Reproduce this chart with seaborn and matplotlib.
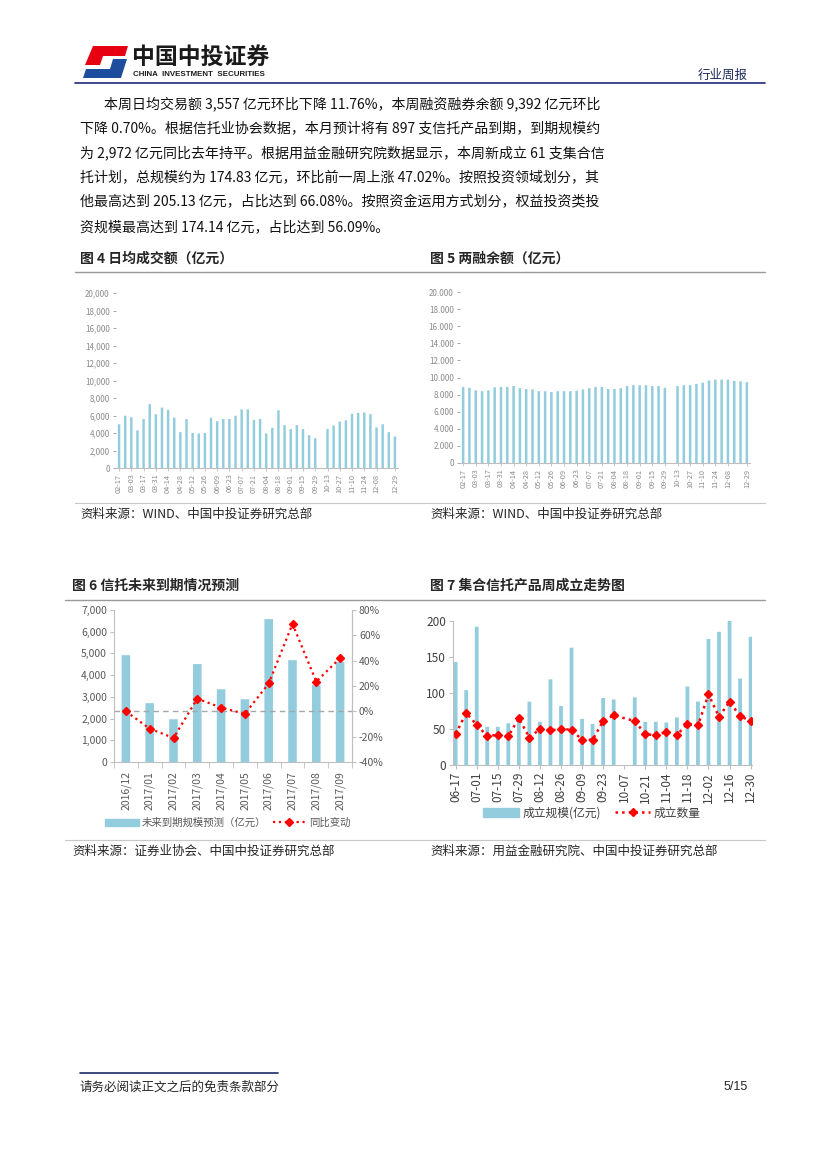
import numpy as np
import pandas as pd
import seaborn as sns
import matplotlib.pyplot as plt
from matplotlib.patches import Polygon, Patch
from matplotlib.lines import Line2D
from matplotlib.ticker import FuncFormatter

sns.set_style('white')
plt.rcParams['font.family'] = ['Noto Sans CJK SC', 'DejaVu Sans']
plt.rcParams['axes.unicode_minus'] = False

# ---- data ----
weeks = ['02-17', '02-24', '03-03', '03-10', '03-17', '03-24', '03-31', '04-07', '04-14', '04-21',
         '04-28', '05-05', '05-12', '05-19', '05-26', '06-02', '06-09', '06-16', '06-23', '06-30',
         '07-07', '07-14', '07-21', '07-28', '08-04', '08-11', '08-18', '08-25', '09-01', '09-08',
         '09-15', '09-22', '09-29', '10-06', '10-13', '10-20', '10-27', '11-03', '11-10', '11-17',
         '11-24', '12-01', '12-08', '12-15', '12-22', '12-29']

# fig 4 日均成交额 (亿元)
turnover = [5000, 5970, 5800, 4300, 5600, 7300, 6150, 6900, 6650, 5750,
            4100, 5600, 4000, 3950, 4000, 5750, 5350, 5600, 5600, 5970,
            6700, 6700, 5500, 5600, 3950, 4600, 6600, 4900, 4450, 4900,
            4450, 3750, 3400, 0, 4450, 4850, 5300, 5450, 6200, 6300,
            6350, 6150, 4650, 5000, 4100, 3600]

# fig 5 两融余额 (亿元)
margin = [8900, 8800, 8500, 8400, 8500, 8850, 8900, 8900, 9000, 8750,
          8650, 8600, 8400, 8400, 8300, 8400, 8400, 8400, 8450, 8600,
          8750, 8900, 8900, 8650, 8650, 8750, 9000, 9100, 9100, 9100,
          9000, 9000, 8800, 0, 9000, 9100, 9100, 9250, 9400, 9650,
          9750, 9750, 9750, 9600, 9550, 9450]

# fig 6 信托未来到期
months = ['2016/12', '2017/01', '2017/02', '2017/03', '2017/04',
          '2017/05', '2017/06', '2017/07', '2017/08', '2017/09']
due_scale = [4920, 2710, 1970, 4510, 3350, 2890, 6580, 4690, 3540, 4600]
due_yoy = [0.00, -0.137, -0.21, 0.10, 0.03, -0.02, 0.22, 0.69, 0.235, 0.42]

# fig 7 集合信托产品周成立
weeks7 = ['06-17', '06-24', '07-01', '07-08', '07-15', '07-22', '07-29', '08-05', '08-12', '08-19',
          '08-26', '09-02', '09-09', '09-16', '09-23', '09-30', '10-07', '10-14', '10-21', '10-28',
          '11-04', '11-11', '11-18', '11-25', '12-02', '12-09', '12-16', '12-23', '12-30']
new_scale = [143, 104, 192, 53, 53, 58, 60, 88, 60, 119,
             82, 163, 64, 57, 93, 91, 0, 94, 60, 60,
             59, 66, 109, 88, 175, 185, 200, 120, 178]
new_count = [43, 72, 56, 40, 42, 40, 65, 38, 50, 48,
             50, 49, 35, 35, 61, 69, np.nan, 61, 43, 41,
             46, 42, 57, 55, 98, 67, 88, 68, 61]

text_lines = [
    '本周日均交易额 3,557 亿元环比下降 11.76%，本周融资融券余额 9,392 亿元环比',
    '下降 0.70%。根据信托业协会数据，本月预计将有 897 支信托产品到期，到期规模约',
    '为 2,972 亿元同比去年持平。根据用益金融研究院数据显示，本周新成立 61 支集合信',
    '托计划，总规模约为 174.83 亿元，环比前一周上涨 47.02%。按照投资领域划分，其',
    '他最高达到 205.13 亿元，占比达到 66.08%。按照资金运用方式划分，权益投资类投',
    '资规模最高达到 174.14 亿元，占比达到 56.09%。',
]

BAR = '#93CDDD'
RED = '#FF0000'
W, H = 827, 1169

fig = plt.figure(figsize=(W / 100, H / 100), dpi=100)


def px_axes(l, t, r, b):
    return fig.add_axes([l / W, 1 - b / H, (r - l) / W, (b - t) / H])


def px_text(x, y, s, **kw):
    kw.setdefault('va', 'center')
    fig.text(x / W, 1 - y / H, s, **kw)


def px_line(x0, x1, y, color, lw=1.0):
    fig.add_artist(Line2D([x0 / W, x1 / W], [1 - y / H, 1 - y / H],
                          transform=fig.transFigure, color=color, lw=lw))


def no_snap(ax):
    for p in ax.patches:
        p.set_snap(False)
        p.set_linewidth(0)


# ---- header ----
red_logo = [(93, 46), (128, 46), (125, 56), (103, 56), (100, 65), (85, 65)]
blue_logo = [(113, 59), (127, 59), (121, 78), (83, 78), (86, 69), (110, 69)]
fig.add_artist(Polygon([(x / W, 1 - y / H) for x, y in red_logo], closed=True,
                       transform=fig.transFigure, color='#E60012', lw=0))
fig.add_artist(Polygon([(x / W, 1 - y / H) for x, y in blue_logo], closed=True,
                       transform=fig.transFigure, color='#1D4E9E', lw=0))
px_text(132, 57, '中国中投证券', fontsize=16.5, fontweight='bold', color='#1a1a1a')
px_text(133, 74, 'CHINA  INVESTMENT  SECURITIES', fontsize=5.7, fontweight='bold',
        color='#1a1a1a', family='Liberation Sans')
px_text(748, 75, '行业周报', fontsize=9, ha='right', color='#1c2a5a')
px_line(75, 765, 83, '#2E3A87', 1.3)

# ---- paragraph ----
for i, s in enumerate(text_lines):
    x0 = 104 if i == 0 else 80
    px_text(x0, 104 + i * 24.6, s, fontsize=10.05, color='#111111')

# ---- section titles / sources ----
px_text(80, 259, '图 4 日均成交额（亿元）', fontsize=10, fontweight='bold')
px_text(430, 259, '图 5 两融余额（亿元）', fontsize=10, fontweight='bold')
px_line(75, 765, 272, '#9a9a9a', 1.0)
px_line(75, 765, 503, '#c8c8c8', 0.8)
px_text(80, 514, '资料来源：WIND、中国中投证券研究总部', fontsize=9)
px_text(430, 514, '资料来源：WIND、中国中投证券研究总部', fontsize=9)

px_text(72, 586, '图 6 信托未来到期情况预测', fontsize=10, fontweight='bold')
px_text(430, 586, '图 7 集合信托产品周成立走势图', fontsize=10, fontweight='bold')
px_line(65, 765, 600, '#9a9a9a', 1.0)
px_line(65, 765, 840, '#c8c8c8', 0.8)
px_text(72, 851, '资料来源：证券业协会、中国中投证券研究总部', fontsize=9)
px_text(430, 851, '资料来源：用益金融研究院、中国中投证券研究总部', fontsize=9)

# ---- footer ----
px_line(80, 278, 1073, '#1c2a6a', 1.2)
px_text(80, 1087, '请务必阅读正文之后的免责条款部分', fontsize=9)
px_text(748, 1087, '5/15', fontsize=9, ha='right', family='Liberation Sans')


# ---- fig 4 / fig 5: small weekly bar charts ----
def weekly_bars(ax, vals, fmt):
    sns.barplot(x=weeks, y=vals, color=BAR, saturation=1, width=0.4, ax=ax)
    no_snap(ax)
    ax.set_xlim(-0.5, len(weeks) - 0.5)
    ax.set_ylim(0, 20000)
    ax.set_yticks(range(0, 20001, 2000))
    ax.yaxis.set_major_formatter(FuncFormatter(fmt))
    pos = list(range(0, 44, 2)) + [45]
    ax.set_xticks(pos, [weeks[p] for p in pos], rotation=90)
    for side in ['top', 'right', 'left']:
        ax.spines[side].set_visible(False)
    ax.spines['bottom'].set_color('#bfbfbf')
    ax.tick_params(axis='y', left=True, length=2.5, width=0.6, color='#9a9a9a',
                   labelsize=5.8, labelcolor='#8a8a8a', pad=2)
    ax.tick_params(axis='x', bottom=True, length=2, width=0.6, color='#bfbfbf',
                   labelsize=5.3, labelcolor='#8a8a8a', pad=2)
    ax.set_xlabel('')
    ax.set_ylabel('')


ax4 = px_axes(116, 293, 398, 468)
weekly_bars(ax4, turnover, lambda v, p: f'{v:,.0f}')

ax5 = px_axes(460, 292, 750, 463)
weekly_bars(ax5, margin, lambda v, p: f'{v:,.0f}'.replace(',', '.'))

# ---- fig 6 ----
ax6 = px_axes(114, 610, 352, 762)
sns.barplot(x=months, y=due_scale, color=BAR, saturation=1, width=0.36, ax=ax6)
no_snap(ax6)
ax6.set_xlim(-0.5, 9.5)
ax6.set_ylim(0, 7000)
ax6.set_yticks(range(0, 7001, 1000))
ax6.yaxis.set_major_formatter(FuncFormatter(lambda v, p: f'{v:,.0f}'))
ax6.set_xticks(range(10), months, rotation=90)
ax6.set_xticks(np.arange(-0.5, 10, 1), minor=True)
ax6.tick_params(axis='x', which='major', bottom=False, labelsize=7.5,
                labelcolor='#595959', pad=3)
ax6.tick_params(axis='x', which='minor', bottom=True, length=4, color='#bfbfbf')
ax6.tick_params(axis='y', left=True, length=3, color='#bfbfbf',
                labelsize=7.5, labelcolor='#595959', pad=2)
ax6.spines['top'].set_visible(False)
for side in ['left', 'right', 'bottom']:
    ax6.spines[side].set_color('#bfbfbf')
ax6.set_xlabel('')
ax6.set_ylabel('')

ax6r = ax6.twinx()
ax6r.set_ylim(-0.4, 0.8)
ax6r.set_yticks(np.arange(-0.4, 0.81, 0.2))
ax6r.yaxis.set_major_formatter(FuncFormatter(lambda v, p: f'{v * 100:.0f}%'.replace('−', '-')))
ax6r.axhline(0, color='#a6a6a6', ls=(0, (4, 3)), lw=1)
ax6r.plot(range(10), due_yoy, ls=':', lw=1.6, color=RED, marker='D', markersize=4.2)
ax6r.tick_params(axis='y', right=True, length=3, color='#bfbfbf',
                 labelsize=7.5, labelcolor='#595959', pad=2)
for side in ['top', 'left', 'bottom']:
    ax6r.spines[side].set_visible(False)
ax6r.spines['right'].set_color('#bfbfbf')

h6 = [Patch(color=BAR), Line2D([], [], ls=':', lw=1.6, color=RED, marker='D', markersize=4.2)]
fig.legend(h6, ['未来到期规模预测（亿元）', '同比变动'], loc='center',
           bbox_to_anchor=(228 / W, 1 - 823 / H), ncol=2, frameon=False,
           fontsize=7.5, labelcolor='#595959', handlelength=3.2, columnspacing=0.6,
           handletextpad=0.3)

# ---- fig 7 ----
ax7 = px_axes(453, 621, 752, 765)
sns.barplot(x=weeks7, y=new_scale, color=BAR, saturation=1, width=0.36, ax=ax7)
no_snap(ax7)
cnt = np.array(new_count, dtype=float)
ok = ~np.isnan(cnt)
ax7.plot(np.arange(len(weeks7))[ok], cnt[ok], ls=':', lw=1.8, color=RED,
         marker='D', markersize=4.2)
ax7.set_xlim(-0.25, len(weeks7) - 0.87)
ax7.set_ylim(0, 200)
ax7.set_yticks(range(0, 201, 50))
ax7.set_xticks(range(0, len(weeks7), 2), weeks7[::2], rotation=90)
ax7.tick_params(axis='x', bottom=True, length=3, color='#bfbfbf',
                labelsize=8.5, labelcolor='#404040', pad=2)
ax7.tick_params(axis='y', left=True, length=3, color='#bfbfbf',
                labelsize=8.5, labelcolor='#404040', pad=2)
for side in ['top', 'right']:
    ax7.spines[side].set_visible(False)
for side in ['left', 'bottom']:
    ax7.spines[side].set_color('#bfbfbf')
ax7.set_xlabel('')
ax7.set_ylabel('')

h7 = [Patch(color=BAR), Line2D([], [], ls=':', lw=1.8, color=RED, marker='D', markersize=4.2)]
fig.legend(h7, ['成立规模(亿元)', '成立数量'], loc='center',
           bbox_to_anchor=(592 / W, 1 - 813 / H), ncol=2, frameon=False,
           fontsize=8.5, labelcolor='#404040', handlelength=3.0, columnspacing=1.2,
           handletextpad=0.3)

fig.savefig('out.png', dpi=100)
